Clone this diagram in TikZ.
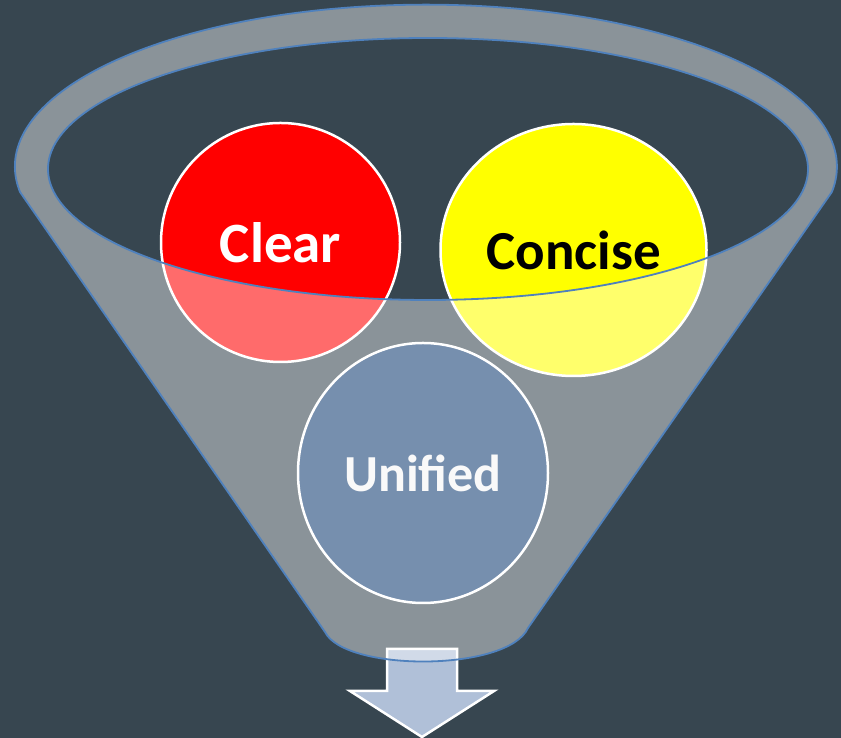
\documentclass[tikz,border=0pt]{standalone}
\usepackage{fontspec}
\setmainfont{Carlito}
\usepackage{tikz}
\usetikzlibrary{shapes.geometric, positioning}
\definecolor{slatebg}{RGB}{55,70,80}
\definecolor{rimblue}{RGB}{79,129,189}
\definecolor{unifiedblue}{RGB}{118,143,174}
\definecolor{arrowlight}{RGB}{176,192,216}
\definecolor{clearred}{RGB}{255,0,0}
\definecolor{conciseyellow}{RGB}{255,255,0}
\tikzset{
  bubble/.style={ellipse, draw=white, line width=2.5pt, inner sep=0pt,
    font=\fontsize{57}{60}\selectfont\bfseries},
  funnelbody/.style={fill=white, fill opacity=0.42, draw=rimblue,
    line width=1.8pt, even odd rule},
  outarrow/.style={fill=arrowlight, draw=white, line width=2.5pt,
    line join=miter},
}
\begin{document}
\begin{tikzpicture}[x=1pt, y=1pt]
  \useasboundingbox (0,0) rectangle (841,738);
  \fill[slatebg] (0,0) rectangle (841,738);

  % circles behind the funnel
  \node[bubble, fill=clearred, text=white, minimum width=239pt,
        minimum height=239pt] (clear) at (280.5,495.5) {Clear};
  \node[bubble, fill=conciseyellow, text=black, minimum width=266pt,
        minimum height=252pt, font=\fontsize{55}{58}\selectfont\bfseries]
        (concise) at (573.5,488) {Concise};

  % output arrow
  \coordinate (tip) at (422,1);
  \draw[outarrow] (387,89) -- (457,89) -- (457,47) -- (494,47) -- (tip)
    -- (350,47) -- (387,47) -- cycle;

  % funnel
  \path[funnelbody] (20,546) arc[start angle=189, end angle=-9,
        x radius=411pt, y radius=162pt]
    -- (528,110) .. controls (508,66) and (345,66) .. (325,106) -- cycle
    (428,569) ellipse [x radius=380pt, y radius=131pt];

  % circle in front
  \node[bubble, fill=unifiedblue, text=white!95!gray, minimum width=250pt,
        minimum height=260pt, font=\fontsize{52}{55}\selectfont\bfseries]
        (unified) at (423,265) {Unified};
\end{tikzpicture}
\end{document}
